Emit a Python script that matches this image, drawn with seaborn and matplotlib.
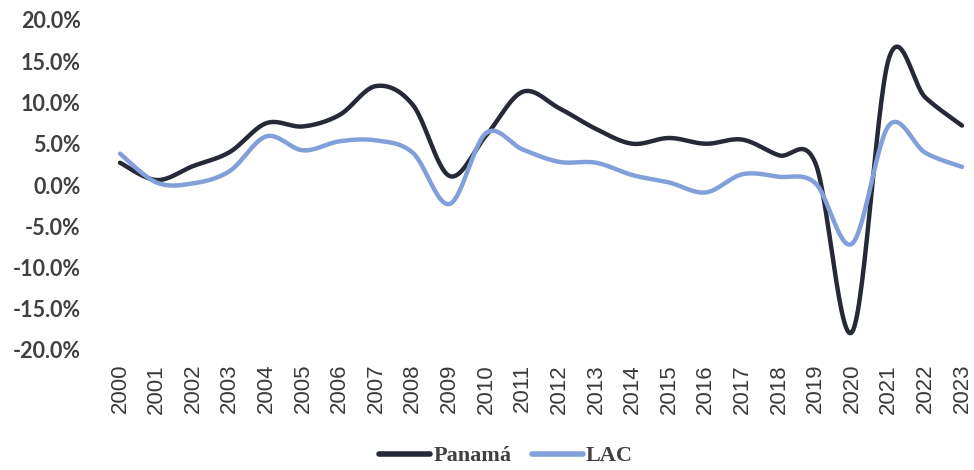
import numpy as np
import pandas as pd
import matplotlib
matplotlib.use("Agg")
import matplotlib.pyplot as plt
import seaborn as sns

years = list(range(2000, 2024))
panama = [2.7, 0.6, 2.3, 4.0, 7.5, 7.1, 8.5, 12.0, 9.7, 1.1, 6.0, 11.3, 9.3, 6.8,
          5.0, 5.7, 5.0, 5.5, 3.6, 2.6, -17.8, 15.3, 10.6, 7.2]
lac = [3.8, 0.3, 0.2, 1.7, 5.9, 4.2, 5.3, 5.4, 3.9, -2.3, 6.3, 4.3, 2.8, 2.7,
       1.2, 0.3, -0.9, 1.3, 1.0, 0.2, -7.1, 7.2, 3.9, 2.2]
series_names = ["Panamá", "LAC"]
series_colors = ["#262a36", "#819fd9"]
ytick_vals = [-20, -15, -10, -5, 0, 5, 10, 15, 20]


def smooth(xs, ys, n=30):
    """Catmull-Rom (Excel-like) smoothing between the data points."""
    xs = np.asarray(xs, float)
    ys = np.asarray(ys, float)
    px = np.concatenate([[xs[0]], xs, [xs[-1]]])
    py = np.concatenate([[ys[0]], ys, [ys[-1]]])
    ox, oy = [], []
    for i in range(1, len(px) - 2):
        p0x, p1x, p2x, p3x = px[i - 1], px[i], px[i + 1], px[i + 2]
        p0y, p1y, p2y, p3y = py[i - 1], py[i], py[i + 1], py[i + 2]
        c1x, c1y = p1x + (p2x - p0x) / 6, p1y + (p2y - p0y) / 6
        c2x, c2y = p2x - (p3x - p1x) / 6, p2y - (p3y - p1y) / 6
        t = np.linspace(0, 1, n, endpoint=(i == len(px) - 3))
        b0 = (1 - t) ** 3
        b1 = 3 * (1 - t) ** 2 * t
        b2 = 3 * (1 - t) * t ** 2
        b3 = t ** 3
        ox.append(b0 * p1x + b1 * c1x + b2 * c2x + b3 * p2x)
        oy.append(b0 * p1y + b1 * c1y + b2 * c2y + b3 * p2y)
    return np.concatenate(ox), np.concatenate(oy)


idx = np.arange(len(years))
frames = []
for name, vals in zip(series_names, [panama, lac]):
    sx, sy = smooth(idx, vals)
    frames.append(pd.DataFrame({"x": sx, "y": sy, "serie": name}))
df = pd.concat(frames, ignore_index=True)

sns.set_theme(style="white")
W, H = 974, 470
fig = plt.figure(figsize=(W / 100, H / 100), dpi=100)
left, right, top, bottom = 110, 970, 20, 350
ax = fig.add_axes([left / W, 1 - bottom / H, (right - left) / W, (bottom - top) / H])

for name, col in zip(series_names, series_colors):
    sub = df[df["serie"] == name]
    sns.lineplot(x=sub["x"].values, y=sub["y"].values, sort=False, color=col,
                 linewidth=3.2, ax=ax, label=name, solid_capstyle="round")

px_per = (962 - 120) / 23
ax.set_xlim(-(120 - left) / px_per, 23 + (right - 962) / px_per)
ax.set_ylim(-20, 20)
for s in ax.spines.values():
    s.set_visible(False)
ax.grid(False)

ax.set_yticks(ytick_vals)
ax.set_yticklabels([f"{v:.1f}%" for v in ytick_vals], fontfamily="Lato",
                   fontweight="bold", fontsize=15.5, color="#404040")
ax.tick_params(axis="y", length=0, pad=21)
ax.set_xticks(idx)
ax.set_xticklabels([str(y) for y in years], rotation=90, fontfamily="Liberation Sans",
                   fontsize=16, color="#3a3a3a", va="top", ha="center")
ax.tick_params(axis="x", length=0, pad=10)
ax.set_xlabel("")
ax.set_ylabel("")

if ax.legend_:
    ax.legend_.remove()
handles, labels = ax.get_legend_handles_labels()
leg = fig.legend(handles, labels, loc="center", bbox_to_anchor=(506 / W, 1 - 456 / H),
                 ncol=2, frameon=False, handlelength=2.3, handletextpad=0.15,
                 columnspacing=0.9,
                 prop={"family": "Liberation Serif", "weight": "bold", "size": 16})
for t in leg.get_texts():
    t.set_color("#404040")
for l in leg.get_lines():
    l.set_linewidth(4)

fig.savefig("out.png", dpi=100)
